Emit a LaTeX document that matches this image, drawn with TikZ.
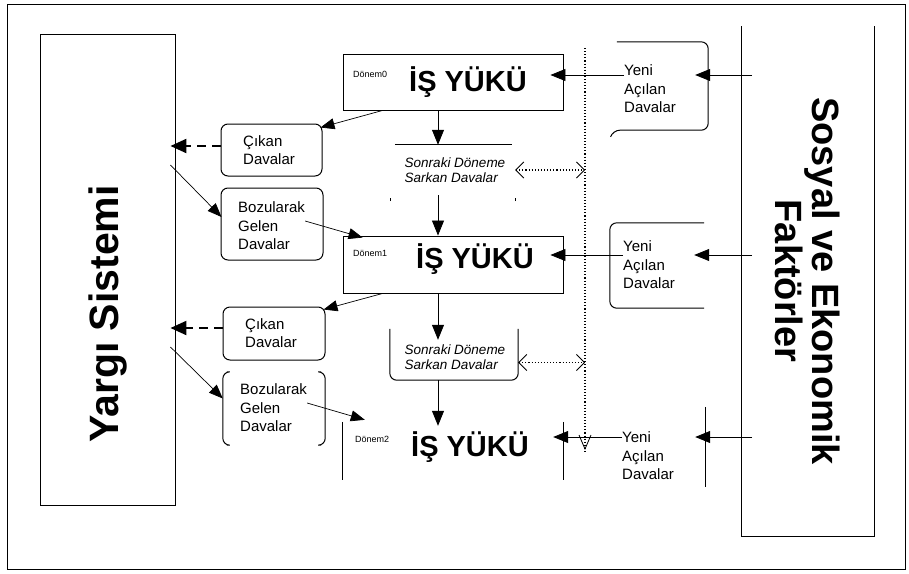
\documentclass[tikz,border=0pt]{standalone}
\usepackage{fontspec}
\setmainfont{Liberation Sans}
\usetikzlibrary{arrows.meta,calc}
\begin{document}
\begin{tikzpicture}[x=1pt,y=-1pt,
  frame/.style={line width=0.9pt},
  arr/.style={line width=0.8pt,-{Triangle[length=15pt,width=12pt]}},
  thinarr/.style={line width=0.7pt,-{Triangle[length=14pt,width=11pt]}},
  dasharr/.style={line width=2.2pt,dash pattern=on 9pt off 6pt,-{Triangle[length=16pt,width=14pt]}},
  dotarr/.style={line width=1.1pt,dotted,{Straight Barb[length=8pt,width=16pt,line width=0.8pt]}-{Straight Barb[length=8pt,width=16pt,line width=0.8pt]}},
  smalltxt/.style={font=\fontsize{15}{18.5}\selectfont,align=left,inner sep=0pt},
  itxt/.style={font=\itshape\fontsize{13.5}{14.5}\selectfont,align=left,inner sep=0pt},
  bigtxt/.style={font=\bfseries\fontsize{29}{32}\selectfont,inner sep=0pt},
  donem/.style={font=\fontsize{9}{10}\selectfont,inner sep=0pt},
  rbox/.style={line width=1pt,rounded corners=7pt}
]
\useasboundingbox (0,0) rectangle (909,573);
% outer frame
\draw[line width=1pt] (7,4) rectangle (905,569);

% big side boxes
\node[draw,frame,minimum width=135pt,minimum height=471pt,inner sep=0pt] (yargi) at (107.5,269.5) {};
\node[rotate=90,font=\bfseries\fontsize{41}{44}\selectfont] (yargit) at (108,314) {Yargı Sistemi};
\coordinate (sosNW) at (741,26);
\coordinate (sosNE) at (874,26);
\coordinate (sosSW) at (741,536);
\coordinate (sosSE) at (874,536);
\draw[frame] (sosNW) -- (sosSW) -- (sosSE) -- (sosNE);
\node[rotate=-90,align=center,font=\bfseries\fontsize{38}{37}\selectfont] (sosyal) at (808,281) {Sosyal ve Ekonomik\\Faktörler};

% workload boxes
\node[draw,frame,minimum width=220pt,minimum height=56pt,inner sep=0pt] (b1) at (453,82) {};
\node[draw,frame,minimum width=220pt,minimum height=57pt,inner sep=0pt] (b2) at (453,264.5) {};
\node[minimum width=220pt,minimum height=58pt,inner sep=0pt] (b3) at (453,451) {};
\draw[frame] (b3.north west) -- (b3.south west);
\draw[frame] (b3.north east) -- (b3.south east);
\node[bigtxt] (w1) at (468,82) {İŞ YÜKÜ};
\node[bigtxt] (w2) at (475,259) {İŞ YÜKÜ};
\node[bigtxt] (w3) at (470,447) {İŞ YÜKÜ};
\node[donem,anchor=west] (d1) at (353,74) {Dönem0};
\node[donem,anchor=west] (d2) at (353,253) {Dönem1};
\node[donem,anchor=west] (d3) at (355,439) {Dönem2};

% carried-over boxes
\node[minimum width=125pt,minimum height=50pt,inner sep=0pt] (s1) at (452.5,170) {};
\draw[line width=1pt] ([xshift=5pt]s1.north west) -- ([xshift=-3pt]s1.north east);
\draw[line width=0.6pt] ([yshift=-6pt]s1.south west) -- ++(0,-3) ([yshift=-6pt]s1.south east) -- ++(0,-3);
\node[itxt] (s1t) at (455,170) {Sonraki Döneme\\Sarkan Davalar};
\node[minimum width=128pt,minimum height=47pt,inner sep=0pt] (s2) at (454,356.5) {};
\draw[rbox] ([yshift=4pt]s2.north west) -- (s2.south west) -- (s2.south east) -- ([yshift=4pt]s2.north east);
\node[itxt] (s2t) at (455,357) {Sonraki Döneme\\Sarkan Davalar};

% outgoing / returning boxes
\node[draw,rbox,minimum width=101pt,minimum height=52pt,inner sep=0pt] (c1) at (271.5,150) {};
\node[smalltxt,anchor=west] (c1t) at (243,150) {Çıkan\\Davalar};
\node[draw,rbox,minimum width=102pt,minimum height=72pt,inner sep=0pt] (z1) at (272,224) {};
\node[smalltxt,anchor=west] (z1t) at (238,226) {Bozularak\\Gelen\\Davalar};
\node[draw,rbox,minimum width=102pt,minimum height=53pt,inner sep=0pt] (c2) at (274,333.5) {};
\node[smalltxt,anchor=west] (c2t) at (245,333) {Çıkan\\Davalar};
\node[minimum width=102pt,minimum height=73pt,inner sep=0pt] (z2) at (274,408.5) {};
\draw[rbox] ([xshift=4pt]z2.north west) -- (z2.north west) -- (z2.south west) -- ([xshift=4pt]z2.south west);
\draw[rbox] ([xshift=-4pt]z2.north east) -- (z2.north east) -- (z2.south east) -- ([xshift=-4pt]z2.south east);
\node[smalltxt,anchor=west] (z2t) at (240,408) {Bozularak\\Gelen\\Davalar};

% new cases boxes
\node[minimum width=97pt,minimum height=88pt,inner sep=0pt] (y1) at (659.5,86) {};
\draw[rbox] ([xshift=6pt]y1.north west) -- (y1.north east) -- (y1.south east) -- ([xshift=2pt]y1.south west) -- ([yshift=-6pt]y1.south west);
\node[smalltxt,anchor=west] (y1t) at (624,89) {Yeni\\Açılan\\Davalar};
\node[minimum width=98pt,minimum height=85pt,inner sep=0pt] (y2) at (659,265.5) {};
\draw[rbox] ([xshift=-4pt]y2.north east) -- (y2.north west) -- (y2.south west) -- ([xshift=-4pt]y2.south east);
\node[smalltxt,anchor=west] (y2t) at (623,265) {Yeni\\Açılan\\Davalar};
\node[minimum width=95pt,minimum height=80pt,inner sep=0pt] (y3) at (657.5,447) {};
\draw[line width=1pt] (y3.north east) -- (y3.south east);
\node[smalltxt,anchor=west] (y3t) at (622,456) {Yeni\\Açılan\\Davalar};

% dotted line
\coordinate (dtop) at (585,48);
\coordinate (dbot) at (585,449);
\draw[line width=1.1pt,dotted] (dtop) -- ([yshift=-4pt]dbot);
\draw[line width=0.8pt] ($(dbot)+(-6,-14)$) -- (dbot) -- ($(dbot)+(6,-14)$);
\draw[dotarr] (s1.east) -- (s1.east -| dtop);
\draw[dotarr] ([yshift=-6pt]s2.east) -- ([yshift=-6pt]s2.east -| dtop);

% vertical flow
\draw[arr] ([xshift=-15pt]b1.south) -- ([xshift=-14.5pt]s1.north);
\draw[arr] ([xshift=-14.5pt]s1.south) -- ([xshift=-15pt]b2.north);
\draw[arr] ([xshift=-15pt]b2.south) -- ([xshift=-16pt,yshift=-7pt]s2.north);
\draw[arr] ([xshift=-16pt]s2.south) -- ([xshift=-15pt,yshift=-4pt]b3.north);

% from social factors to new cases
\coordinate (f1) at (752,75);
\coordinate (f2) at (752,255);
\coordinate (f3) at (752,437);
\draw[arr] (f1) -- ([xshift=-13pt]y1.east |- f1);
\draw[arr] (f2) -- ([xshift=-14pt]y2.east |- f2);
\draw[arr] (f3) -- ([xshift=-10pt]y3.east |- f3);
% from new cases to workload
\draw[arr] (y1t.west |- f1) -- ([xshift=-13pt]b1.east |- f1);
\draw[arr] (y2t.west |- f2) -- ([xshift=-13pt]b2.east |- f2);
\draw[arr] (y3t.west |- f3) -- ([xshift=-10pt]b3.east |- f3);

% outgoing cases
\draw[thinarr] ($(b1.south west)+(40,0)$) -- ($(c1.north east)+(-2,4)$);
\draw[thinarr] ($(b2.south west)+(40,0)$) -- ($(c2.north east)+(-2,3)$);
\draw[dasharr] (c1.west |- 0,146) -- ([xshift=-5pt]yargi.east |- 0,146);
\draw[dasharr] (c2.west |- 0,328) -- ([xshift=-5pt]yargi.east |- 0,328);
% returning cases
\draw[thinarr] ([xshift=-5pt]yargi.east |- 0,165) -- ($(z1.west)+(1,-7)$);
\draw[thinarr] ([xshift=-5pt]yargi.east |- 0,347) -- ($(z2.west)+(0,-10)$);
\draw[thinarr] ($(z1t.east)+(0,-5)$) -- ($(b2.north west)+(20,2)$);
\draw[thinarr] ($(z2t.east)+(0,-5)$) -- ($(b3.north west)+(22,-2)$);
\end{tikzpicture}
\end{document}
